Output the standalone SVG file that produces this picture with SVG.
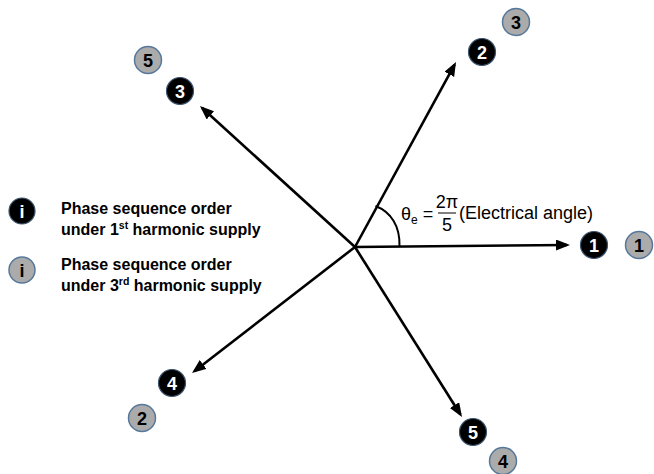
<svg xmlns="http://www.w3.org/2000/svg" width="654" height="474" viewBox="0 0 654 474">
<style>
.arrow{stroke:#000;stroke-width:2.6;fill:none;marker-end:url(#ah)}
.bk circle{fill:#000;stroke:#3d556e;stroke-width:1.2}
.bk text{fill:#fff}
.gr circle{fill:#ababab;stroke:#56789a;stroke-width:1.5}
.gr text{fill:#000}
.num{font-family:"Liberation Sans",Arial,sans-serif;font-weight:bold;font-size:18px;text-anchor:middle}
.leg{font-family:"Liberation Sans",Arial,sans-serif;font-weight:bold;font-size:16px;fill:#000}
.lab{font-family:"Liberation Sans",Arial,sans-serif;font-size:18px;fill:#000}
</style>
<defs>
<marker id="ah" markerUnits="userSpaceOnUse" markerWidth="16" markerHeight="12" refX="11" refY="5.5" orient="auto">
<path d="M0,0 L14,5.5 L0,11 z" fill="#000"/>
</marker>
</defs>
<rect width="654" height="474" fill="#fff"/>
<g id="connectors">
<line class="arrow" x1="355" y1="247" x2="567" y2="245"/>
<line class="arrow" x1="355" y1="247" x2="454.6" y2="64.6"/>
<line class="arrow" x1="355" y1="247" x2="202.2" y2="108"/>
<line class="arrow" x1="355" y1="247" x2="194.4" y2="371.2"/>
<line class="arrow" x1="355" y1="247" x2="460.4" y2="414.5"/>
<path d="M375.5,206 C391,212 400,226 399.5,246" stroke="#000" stroke-width="2" fill="none"/>
</g>
<g id="angle-label">
<text class="lab" x="401" y="220" font-size="20">θ<tspan font-size="12" dy="4">e</tspan><tspan dy="-4" font-size="18"> =</tspan></text>
<text class="lab" x="447" y="208" font-size="15" text-anchor="middle">2π</text>
<line x1="438" y1="213" x2="456" y2="213" stroke="#000" stroke-width="1"/>
<text class="lab" x="447" y="231" font-size="15" text-anchor="middle">5</text>
<text class="lab" x="459" y="219">(Electrical angle)</text>
</g>
<g id="n1-black" class="bk"><circle cx="594" cy="245" r="13.5"/><text class="num" x="594" y="251.5">1</text></g>
<g id="n1-gray" class="gr"><circle cx="639" cy="245" r="13.5"/><text class="num" x="639" y="251.5">1</text></g>
<g id="n2-black" class="bk"><circle cx="482" cy="52" r="13.5"/><text class="num" x="482" y="58.5">2</text></g>
<g id="n3-gray" class="gr"><circle cx="516" cy="22" r="13.5"/><text class="num" x="516" y="28.5">3</text></g>
<g id="n3-black" class="bk"><circle cx="180" cy="91" r="13.5"/><text class="num" x="180" y="97.5">3</text></g>
<g id="n5-gray" class="gr"><circle cx="148" cy="60" r="13.5"/><text class="num" x="148" y="66.5">5</text></g>
<g id="n4-black" class="bk"><circle cx="172" cy="383" r="13.5"/><text class="num" x="172" y="389.5">4</text></g>
<g id="n2-gray" class="gr"><circle cx="142" cy="418" r="13.5"/><text class="num" x="142" y="424.5">2</text></g>
<g id="n5-black" class="bk"><circle cx="473" cy="432" r="13.5"/><text class="num" x="473" y="438.5">5</text></g>
<g id="n4-gray" class="gr"><circle cx="503" cy="461" r="13.5"/><text class="num" x="503" y="467.5">4</text></g>
<g id="legend-1st">
<g class="bk"><circle cx="22" cy="211" r="13"/><text class="num" x="22" y="217.5">i</text></g>
<text class="leg" x="61" y="214">Phase sequence order</text>
<text class="leg" x="61" y="235">under 1<tspan font-size="10.5" dy="-6">st</tspan><tspan dy="6"> harmonic supply</tspan></text>
</g>
<g id="legend-3rd">
<g class="gr"><circle cx="22" cy="270" r="13"/><text class="num" x="22" y="276.5">i</text></g>
<text class="leg" x="61" y="270">Phase sequence order</text>
<text class="leg" x="61" y="291">under 3<tspan font-size="10.5" dy="-6">rd</tspan><tspan dy="6"> harmonic supply</tspan></text>
</g>
</svg>
